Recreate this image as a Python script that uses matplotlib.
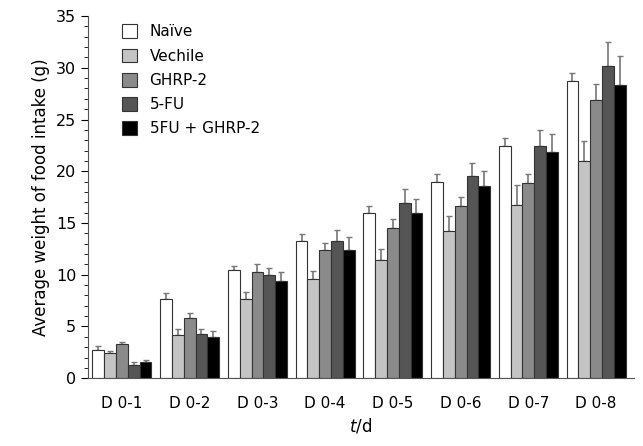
import numpy as np
import matplotlib.pyplot as plt

days = ['D 0-1', 'D 0-2', 'D 0-3', 'D 0-4', 'D 0-5', 'D 0-6', 'D 0-7', 'D 0-8']
groups = ['Naïve', 'Vechile', 'GHRP-2', '5-FU', '5FU + GHRP-2']

# mean food intake (g) per group
naive = [2.74, 7.64, 10.44, 13.28, 15.95, 19.0, 22.4, 28.7]
vechile = [2.48, 4.16, 7.67, 9.6, 11.44, 14.2, 16.73, 20.95]
ghrp2 = [3.35, 5.8, 10.3, 12.35, 14.5, 16.67, 18.86, 26.9]
fu5 = [1.23, 4.3, 9.93, 13.28, 16.9, 19.56, 22.4, 30.17]
fu5_ghrp2 = [1.55, 4.0, 9.4, 12.35, 15.95, 18.6, 21.9, 28.3]

# upper error (SD/SE) per group
naive_err = [0.35, 0.55, 0.45, 0.7, 0.65, 0.75, 0.85, 0.8]
vechile_err = [0.12, 0.55, 0.7, 0.8, 1.05, 1.5, 1.9, 1.95]
ghrp2_err = [0.15, 0.5, 0.75, 0.75, 0.85, 0.8, 0.9, 1.5]
fu5_err = [0.32, 0.5, 0.7, 1.05, 1.35, 1.2, 1.55, 2.35]
fu5_ghrp2_err = [0.2, 0.6, 0.9, 1.25, 1.4, 1.45, 1.7, 2.8]

series = [naive, vechile, ghrp2, fu5, fu5_ghrp2]
errors = [naive_err, vechile_err, ghrp2_err, fu5_err, fu5_ghrp2_err]
colors = ['white', '#c4c4c4', '#8a8a8a', '#555555', 'black']

plt.rcParams['font.family'] = 'DejaVu Sans'
fig = plt.figure(figsize=(6.43, 4.46), dpi=100)
ax = fig.add_axes([0.137, 0.152, 0.849, 0.812])

x = np.arange(len(days))
width = 0.174
for i, (vals, errs) in enumerate(zip(series, errors)):
    pos = x + (i - 2) * width
    ax.bar(pos, vals, width, color=colors[i], edgecolor='#333333', linewidth=0.8,
           label=groups[i], zorder=2)
    ax.errorbar(pos, vals, yerr=[np.zeros(len(vals)), errs], fmt='none',
                ecolor='#777777', elinewidth=1.2, capsize=2.5, capthick=1, zorder=1)

ax.set_xlim(-0.5, 7.56)
ax.set_ylim(0, 35)
ax.set_yticks(np.arange(0, 36, 5))
ax.set_yticks(np.arange(0, 36, 1), minor=True)
ax.set_xticks(x)
ax.set_xticklabels(days)
ax.tick_params(axis='x', direction='in', length=6, width=1, colors='#333333',
               labelcolor='black', labelsize=11, pad=13)
ax.tick_params(axis='y', which='major', direction='out', length=5, labelsize=11.5)
ax.tick_params(axis='y', which='minor', direction='out', length=3)
ax.spines['top'].set_visible(False)
ax.spines['right'].set_visible(False)
for s in ['left', 'bottom']:
    ax.spines[s].set_color('#555555')

ax.set_ylabel('Average weight of food intake (g)', fontsize=12)
ax.set_xlabel('$\\it{t}$/d', fontsize=12, labelpad=4)

ax.legend(loc='upper left', bbox_to_anchor=(0.037, 1.015), frameon=False, fontsize=11,
          handlelength=1.0, handleheight=1.0, labelspacing=0.6, handletextpad=0.8)

fig.savefig('out.png', dpi=100)
